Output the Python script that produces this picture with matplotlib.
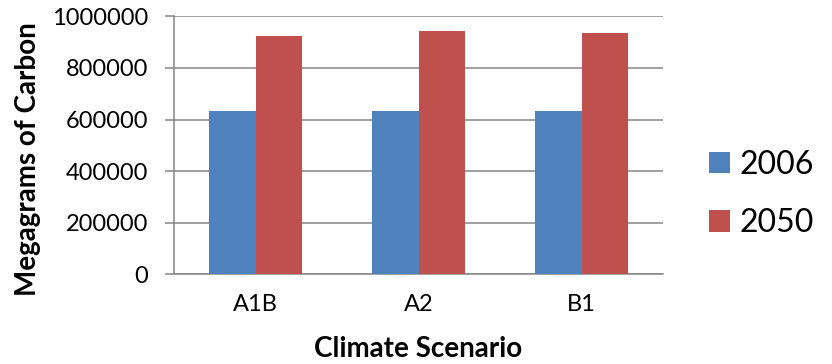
import matplotlib
matplotlib.use("Agg")
import matplotlib.pyplot as plt
import numpy as np

# Carbon stock per climate scenario
scenarios = ["A1B", "A2", "B1"]
years = ["2006", "2050"]
carbon_2006 = [632000, 633000, 633000]
carbon_2050 = [922000, 943000, 935000]
yticks = [0, 200000, 400000, 600000, 800000, 1000000]

blue = "#4F81BD"
red = "#C0504D"
grid_grey = "#868686"

plt.rcParams["font.family"] = ["Lato", "DejaVu Sans"]

W, H = 832, 364
fig = plt.figure(figsize=(W / 100, H / 100), dpi=100)
ax = fig.add_axes([174 / W, 1 - 274.3 / H, (663 - 174) / W, (274.3 - 16.3) / H])

x = np.arange(len(scenarios))
bw = 0.285
b1 = ax.bar(x - bw / 2, carbon_2006, width=bw, color=blue, label=years[0], zorder=3)
b2 = ax.bar(x + bw / 2, carbon_2050, width=bw, color=red, label=years[1], zorder=3)

ax.set_xlim(-0.5, len(scenarios) - 0.5)
ax.set_ylim(0, 1000000)
ax.set_yticks(yticks)
ax.set_yticklabels([str(v) for v in yticks])
ax.set_xticks(x)
ax.set_xticklabels(scenarios)

ax.yaxis.grid(True, color=grid_grey, linewidth=1.1, zorder=0)
ax.set_axisbelow(True)

for side in ["top", "right"]:
    ax.spines[side].set_visible(False)
for side in ["left", "bottom"]:
    ax.spines[side].set_color(grid_grey)
    ax.spines[side].set_linewidth(1.1)

ax.tick_params(axis="y", length=6.5, width=1.1, color=grid_grey, pad=12,
               labelsize=17, labelcolor="#000000")
ax.tick_params(axis="x", length=0, pad=14, labelsize=17, labelcolor="#000000")

ax.set_xlabel("Climate Scenario", fontsize=20, fontweight="bold", labelpad=15)
fig.text(28 / W, 1 - 159 / H, "Megagrams of Carbon", rotation=90,
         fontsize=20, fontweight="bold", ha="center", va="center")

fig.legend(handles=[b1, b2], labels=years, loc="center left",
           bbox_to_anchor=(709 / W, 1 - 194 / H), frameon=False,
           fontsize=23, handlelength=0.66, handleheight=0.66,
           handletextpad=0.3, labelspacing=0.9, borderpad=0, borderaxespad=0)

fig.savefig("out.png", dpi=100)
